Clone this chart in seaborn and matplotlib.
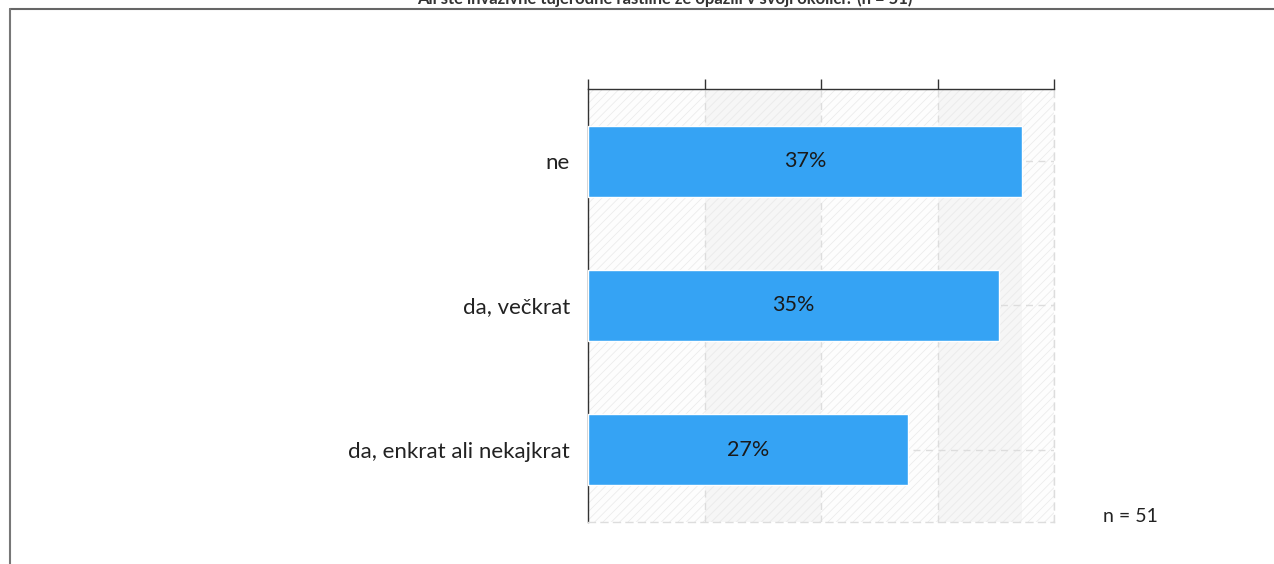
import matplotlib
matplotlib.use("Agg")
import matplotlib.pyplot as plt
import seaborn as sns
import pandas as pd

categories = ["ne", "da, večkrat", "da, enkrat ali nekajkrat"]
values = [37.25, 35.29, 27.45]
value_labels = ["37%", "35%", "27%"]
title = "Ali ste invazivne tujerodne rastline že opazili v svoji okolici? (n = 51)"
note = "n = 51"
xticks = [0, 10, 20, 30, 40]

sns.set_theme(style="white")
plt.rcParams['font.family'] = ['Lato', 'DejaVu Sans']
plt.rcParams['hatch.linewidth'] = 0.6
plt.rcParams['hatch.color'] = '#e8e8e8'

df = pd.DataFrame({"cat": categories, "val": values})

fig = plt.figure(figsize=(12.74, 5.64), dpi=100)
ax = fig.add_axes([588/1274, 1-522/564, (1054-588)/1274, (522-89)/564])

# background bands
ax.axvspan(0, 40, facecolor='#fdfdfd', edgecolor='#ececec', hatch='////', lw=0, zorder=0)
for a, b in [(10, 20), (30, 37.25)]:
    ax.axvspan(a, b, facecolor='#f6f6f6', edgecolor='#eaeaea', hatch='////', lw=0, zorder=0)

sns.barplot(data=df, x="val", y="cat", orient="h", color="#35a3f4", width=0.49,
            saturation=1, ax=ax, zorder=3)

for i, (v, lab) in enumerate(zip(values, value_labels)):
    ax.text(v/2, i, lab, ha='center', va='center', fontsize=15.5, color='#1a1a1a', zorder=4)

ax.set_xlim(0, 40)
ax.set_ylim(2.5, -0.5)
ax.set_xticks(xticks)
ax.xaxis.tick_top()
ax.tick_params(axis='x', direction='out', length=7, width=1, color='#333333', labeltop=False, labelbottom=False)
ax.tick_params(axis='y', direction='out', length=6, width=1, color='#333333', labelsize=16, labelcolor='#222222', pad=7)
ax.set_xlabel("")
ax.set_ylabel("")

for x in xticks[1:]:
    ax.axvline(x, color='#dddddd', ls=(0, (5, 4)), lw=1, zorder=1)
for i in range(len(categories)):
    ax.axhline(i, color='#dddddd', ls=(0, (5, 4)), lw=1, zorder=1)

ax.spines['top'].set_color('#333333')
ax.spines['left'].set_color('#333333')
ax.spines['top'].set_linewidth(1)
ax.spines['left'].set_linewidth(1)
for s in ['right', 'bottom']:
    ax.spines[s].set_visible(True)
    ax.spines[s].set_color('#dddddd')
    ax.spines[s].set_linestyle((0, (5, 4)))
    ax.spines[s].set_linewidth(1)

# frame lines
fig.add_artist(plt.Line2D([10/1274, 1], [1-9/564, 1-9/564], color='#666666', lw=1.5))
fig.add_artist(plt.Line2D([10/1274, 10/1274], [0, 1-9/564], color='#777777', lw=1.5))

fig.text(665/1274, 1-4/564, title, ha='center', va='baseline', fontsize=12,
         fontweight='bold', color='#333333')
fig.text(1103/1274, 1-516/564, note, ha='left', va='center', fontsize=14, color='#222222')

fig.savefig("out.png", dpi=100)
